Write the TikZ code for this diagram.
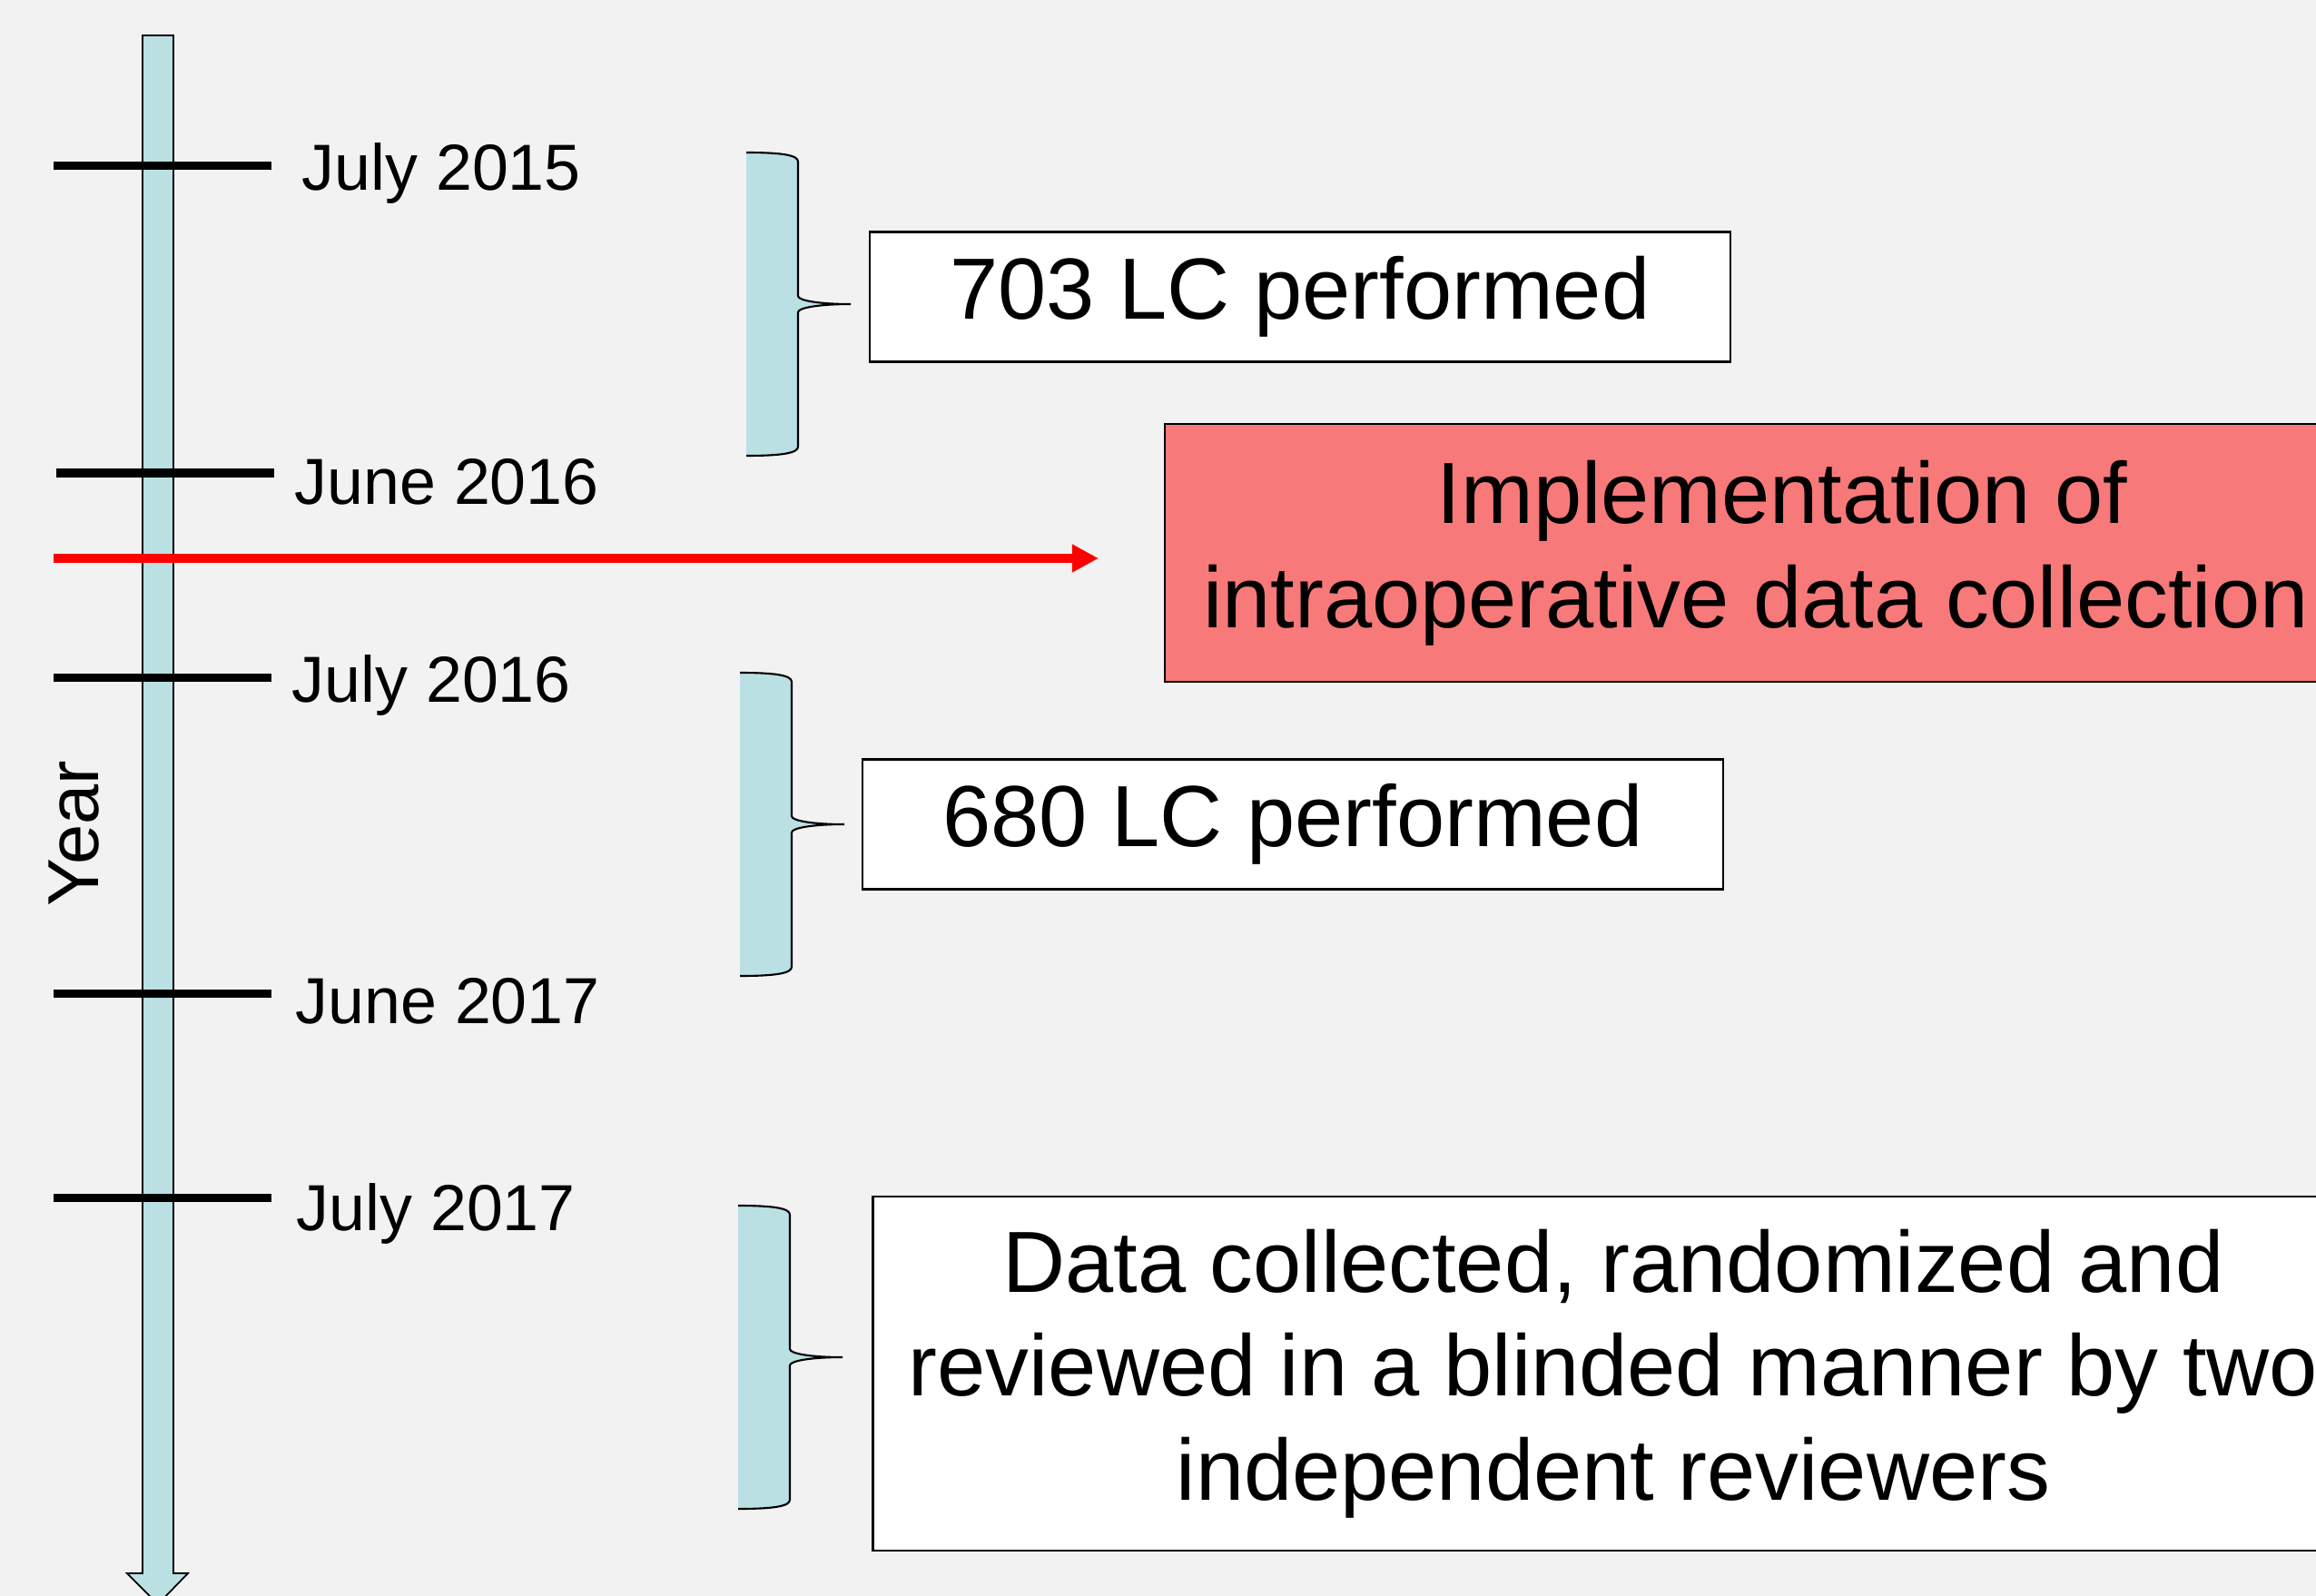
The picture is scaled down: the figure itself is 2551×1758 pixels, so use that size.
\documentclass[tikz,border=0pt]{standalone}
\usepackage{fontspec}
\setmainfont{Liberation Sans}
\usetikzlibrary{arrows.meta}
\definecolor{paper}{HTML}{F2F2F2}
\definecolor{axisblue}{HTML}{BBE0E3}
\definecolor{salmon}{HTML}{F87979}
\tikzstyle{axis} = [draw=black, line width=0.5pt, fill=axisblue]
\tikzstyle{yeartick} = [draw=black, line width=2.56pt]
\tikzstyle{datelabel} = [anchor=base west, inner sep=0pt, font=\fontsize{20.4}{24.5}\selectfont]
\tikzstyle{countbox} = [rectangle, minimum width=9.48cm, minimum height=1.43cm, text centered, draw=black, line width=0.6pt, fill=white, font=\fontsize{27.2}{32.6}\selectfont]
\tikzstyle{implbox} = [rectangle, minimum width=13.02cm, minimum height=2.83cm, align=center, draw=black, line width=0.6pt, fill=salmon, font=\fontsize{27.2}{32.6}\selectfont]
\tikzstyle{reviewbox} = [rectangle, minimum width=16.3cm, minimum height=3.9cm, align=center, draw=black, line width=0.6pt, fill=white, font=\fontsize{27.2}{32.6}\selectfont]
\tikzstyle{redarrow} = [draw=red, line width=2.85pt, -{Triangle[length=0.29cm, width=0.29cm]}]
\tikzset{timebrace/.pic={
	\fill [axisblue] (-115,-167) .. controls (-75,-167) and (-58,-164) .. (-58,-157) -- (-58,-9) .. controls (-58,-4) and (-35,0) .. (0,0) .. controls (-35,0) and (-58,4) .. (-58,9) -- (-58,157) .. controls (-58,164) and (-75,167) .. (-115,167) -- cycle;
	\draw [black, line width=0.6pt] (-115,-167) .. controls (-75,-167) and (-58,-164) .. (-58,-157) -- (-58,-9) .. controls (-58,-4) and (-35,0) .. (0,0) .. controls (-35,0) and (-58,4) .. (-58,9) -- (-58,157) .. controls (-58,164) and (-75,167) .. (-115,167);
}}

\begin{document}
\begin{tikzpicture}[x=0.01cm, y=-0.01cm]
			\useasboundingbox (0,0) rectangle (2551,1758);
			\fill [paper] (0,0) rectangle (2551,1758);
			\clip (0,0) rectangle (2551,1758);
			
			\draw [axis] (157,39) -- (191,39) -- (191,1733) -- (207,1733) -- (174,1767) -- (140,1733) -- (157,1733) -- cycle;
			\node (year) [rotate=90, font=\fontsize{22.6}{27}\selectfont] at (82,918) {Year};
			
			\draw [yeartick] (59,183) -- (299,183);
			\draw [yeartick] (62,521) -- (302,521);
			\draw [yeartick] (59,746) -- (299,746);
			\draw [yeartick] (59,1094) -- (299,1094);
			\draw [yeartick] (59,1319) -- (299,1319);
			\node (jul15) [datelabel] at (332,210) {July 2015};
			\node (jun16) [datelabel] at (324,556) {June 2016};
			\node (jul16) [datelabel] at (321,773) {July 2016};
			\node (jun17) [datelabel] at (325,1127) {June 2017};
			\node (jul17) [datelabel] at (326,1355) {July 2017};
			
			\pic (bracea) at (937,335) {timebrace};
			\pic (braceb) at (930,908) {timebrace};
			\pic (bracec) at (928,1495) {timebrace};
			
			\node (lc703) [countbox] at (1432,327) {703 LC performed};
			\node (impl) [implbox] at (1934,609) {\hspace*{0.58cm}Implementation of\\intraoperative data collection};
			\node (lc680) [countbox] at (1424,908) {680 LC performed};
			\node (review) [reviewbox] at (1777,1513) {Data collected, randomized and\\reviewed in a blinded manner by two\\independent reviewers};
			
			\coordinate (redstart) at (59,615);
			\coordinate (redend) at (1210,615);
			\draw [redarrow] (redstart) -- (redend);
		\end{tikzpicture}
\end{document}
